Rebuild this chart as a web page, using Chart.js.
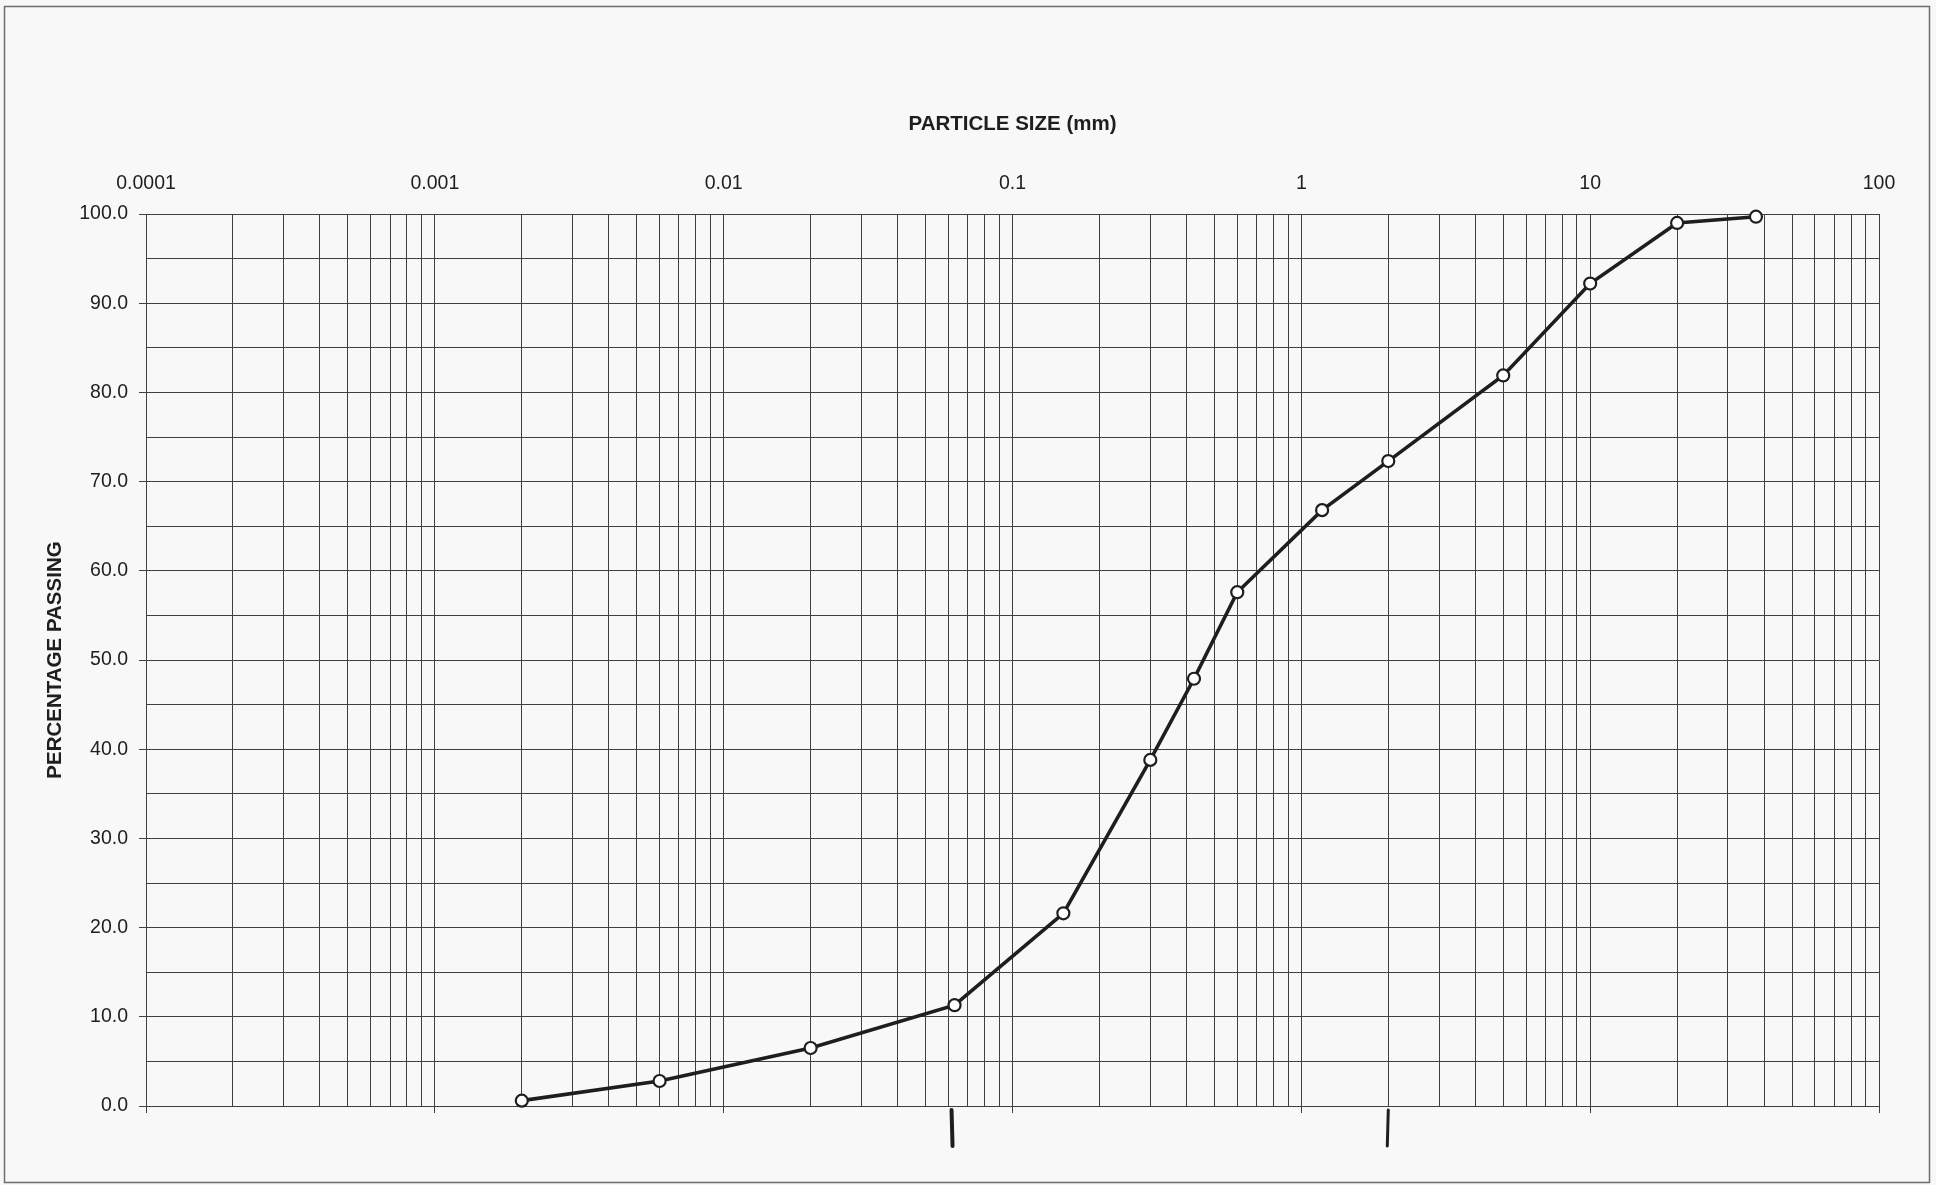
<!DOCTYPE html>
<html>
<head>
<meta charset="utf-8">
<title>Particle size distribution</title>
<script src="https://cdn.jsdelivr.net/npm/chart.js@4.4.1/dist/chart.umd.min.js"></script>
<style>
  html, body { margin: 0; padding: 0; background: #f8f8f8; }
  #wrap { width: 1936px; height: 1185px; position: relative; }
</style>
</head>
<body>
<div id="wrap"><canvas id="grading"></canvas></div>
<script>
// Sieve / hydrometer results
const particleSizeMm = [0.002, 0.006, 0.02, 0.063, 0.15, 0.3, 0.425, 0.6, 1.18, 2, 5, 10, 20, 37.5];
const percentPassing = [0.6, 2.8, 6.5, 11.3, 21.6, 38.8, 47.9, 57.6, 66.8, 72.3, 81.9, 92.2, 99.0, 99.7];

// Axis labels
const xTickValues = [0.0001, 0.001, 0.01, 0.1, 1, 10, 100];
const xTickLabels = ['0.0001', '0.001', '0.01', '0.1', '1', '10', '100'];
const yTickValues = [0, 10, 20, 30, 40, 50, 60, 70, 80, 90, 100];
const yTickLabels = ['0.0', '10.0', '20.0', '30.0', '40.0', '50.0', '60.0', '70.0', '80.0', '90.0', '100.0'];

// Pen marks at the silt/sand and sand/gravel boundaries
const boundaryMarks = [0.063, 2];

const GRID = '#3f3f3f';
const INK = '#1e1e1e';

// 1..9 x 10^n gridlines for every decade, plus the last decade line
function logGridValues() {
  const vals = [];
  for (let d = 0; d < xTickValues.length - 1; d++) {
    for (let k = 1; k <= 9; k++) vals.push(k * xTickValues[d]);
  }
  vals.push(xTickValues[xTickValues.length - 1]);
  return vals.map(v => ({ value: v }));
}
function isDecade(v) {
  return xTickValues.findIndex(d => Math.abs(d - v) / d < 1e-9);
}
function yGridValues() {
  const vals = [];
  for (let i = 0; i < yTickValues.length; i++) {
    vals.push({ value: yTickValues[i] });
    if (i < yTickValues.length - 1) vals.push({ value: (yTickValues[i] + yTickValues[i + 1]) / 2 });
  }
  return vals;
}

const pageFrame = {
  id: 'pageFrame',
  beforeDraw(chart) {
    const c = chart.ctx;
    c.save();
    c.fillStyle = '#f8f8f8';
    c.fillRect(0, 0, chart.width, chart.height);
    c.strokeStyle = '#6e6e6e';
    c.lineWidth = 1.5;
    c.strokeRect(4.5, 6.5, 1925, 1176);
    c.restore();
  }
};

const penMarks = {
  id: 'penMarks',
  afterDraw(chart) {
    const c = chart.ctx;
    const xs = chart.scales.x;
    const bottom = chart.chartArea.bottom;
    c.save();
    c.strokeStyle = INK;
    c.lineCap = 'round';
    boundaryMarks.forEach((v, i) => {
      const px = xs.getPixelForValue(v) - (i === 0 ? 3 : 0);
      c.lineWidth = i === 0 ? 4 : 3;
      c.beginPath();
      c.moveTo(px, bottom + 4);
      c.lineTo(px + (i === 0 ? 1 : -1), bottom + 40);
      c.stroke();
    });
    c.restore();
  }
};

new Chart(document.getElementById('grading'), {
  type: 'line',
  data: {
    datasets: [{
      data: particleSizeMm.map((s, i) => ({ x: s, y: percentPassing[i] })),
      borderColor: INK,
      borderWidth: 3.6,
      tension: 0,
      clip: false,
      pointRadius: 6,
      pointBorderWidth: 2.2,
      pointBackgroundColor: '#ffffff',
      pointBorderColor: INK,
      xAxisID: 'x',
      yAxisID: 'y'
    }]
  },
  options: {
    responsive: true,
    maintainAspectRatio: false,
    animation: false,
    devicePixelRatio: 1,
    layout: { padding: { top: 100, left: 38, right: 57, bottom: 0 } },
    plugins: { legend: { display: false }, tooltip: { enabled: false } },
    scales: {
      x: {
        type: 'logarithmic',
        position: 'top',
        min: 0.0001,
        max: 100,
        afterBuildTicks(scale) { scale.ticks = logGridValues(); },
        afterFit(scale) { scale.height = 114; },
        ticks: {
          autoSkip: false,
          maxRotation: 0,
          padding: 19,
          color: INK,
          font: { family: '"Liberation Sans", Arial, sans-serif', size: 19.5 },
          callback(value) {
            const i = isDecade(value);
            return i >= 0 ? xTickLabels[i] : '';
          }
        },
        grid: { color: GRID, lineWidth: 1, drawTicks: false },
        border: { color: GRID, width: 1 },
        title: {
          display: true,
          text: 'PARTICLE SIZE (mm)',
          color: INK,
          padding: { top: 12, bottom: 0 },
          font: { family: '"Liberation Sans", Arial, sans-serif', size: 20.5, weight: 'bold' }
        }
      },
      x2: {
        type: 'logarithmic',
        position: 'bottom',
        min: 0.0001,
        max: 100,
        afterBuildTicks(scale) { scale.ticks = logGridValues(); },
        afterFit(scale) { scale.height = 79; },
        ticks: { display: false, autoSkip: false },
        grid: {
          drawOnChartArea: false,
          drawTicks: true,
          tickLength: 7,
          lineWidth: 1,
          color: GRID,
          tickColor: ctx => (isDecade(ctx.tick.value) >= 0 ? GRID : 'rgba(0,0,0,0)')
        },
        border: { display: false }
      },
      y: {
        type: 'linear',
        position: 'left',
        min: 0,
        max: 100,
        afterBuildTicks(scale) { scale.ticks = yGridValues(); },
        afterFit(scale) { scale.width = 108; },
        ticks: {
          autoSkip: false,
          padding: 11,
          color: INK,
          font: { family: '"Liberation Sans", Arial, sans-serif', size: 19.5 },
          callback(value) {
            const i = yTickValues.indexOf(value);
            return i >= 0 ? yTickLabels[i] : '';
          }
        },
        grid: {
          color: GRID,
          lineWidth: 1,
          drawTicks: true,
          tickLength: 7,
          tickColor: ctx => (yTickValues.indexOf(ctx.tick.value) >= 0 ? GRID : 'rgba(0,0,0,0)')
        },
        border: { color: GRID, width: 1 },
        title: {
          display: true,
          text: 'PERCENTAGE PASSING',
          color: INK,
          padding: { top: 5, bottom: 0 },
          font: { family: '"Liberation Sans", Arial, sans-serif', size: 20.5, weight: 'bold' }
        }
      }
    }
  },
  plugins: [pageFrame, penMarks]
});
</script>
</body>
</html>
